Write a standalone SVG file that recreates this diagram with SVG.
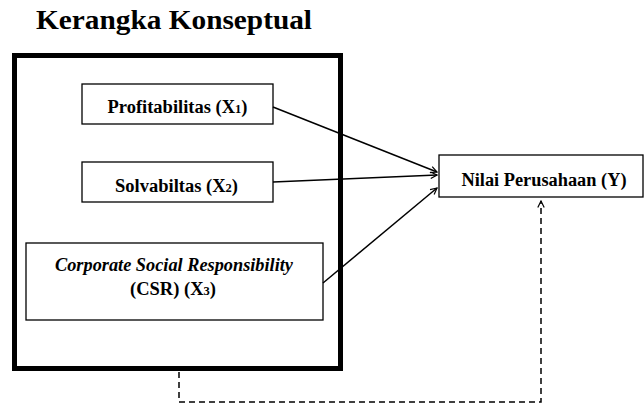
<svg xmlns="http://www.w3.org/2000/svg" width="644" height="405" viewBox="0 0 644 405">
<defs>
<style>
.box{fill:#fff;stroke:#000;stroke-width:1.3}
.t{font-family:"Liberation Serif","Times New Roman",serif;font-weight:bold;font-size:18.5px;fill:#000;text-anchor:middle}
.c{stroke:#000;stroke-width:1.5;fill:none}
.d{stroke:#000;stroke-width:1.5;fill:none;stroke-dasharray:6,4}
</style>
<marker id="ah" viewBox="0 0 10 10" refX="9" refY="5" markerWidth="8" markerHeight="8" markerUnits="userSpaceOnUse" orient="auto">
<path d="M1,1 L9,5 L1,9" fill="none" stroke="#000" stroke-width="1.5"/>
</marker>
</defs>
<rect width="644" height="405" fill="#fff"/>
<text x="174" y="29" style="font-family:'Liberation Serif','Times New Roman',serif;font-weight:bold;font-size:28px" text-anchor="middle" textLength="276" lengthAdjust="spacingAndGlyphs">Kerangka Konseptual</text>
<g id="outer">
<rect x="14.5" y="55.5" width="326" height="313" fill="none" stroke="#000" stroke-width="5"/>
</g>
<g id="profitabilitas">
<rect class="box" x="82" y="84" width="191" height="40"/>
<text class="t" x="177.5" y="113">Profitabilitas (X<tspan font-size="12.5">1</tspan>)</text>
</g>
<g id="solvabilitas">
<rect class="box" x="82" y="162" width="191" height="40"/>
<text class="t" x="176.5" y="192">Solvabiltas (X<tspan font-size="12.5">2</tspan>)</text>
</g>
<g id="csr">
<rect class="box" x="26" y="243" width="297" height="77"/>
<text class="t" x="174" y="271" font-style="italic" textLength="238" lengthAdjust="spacingAndGlyphs">Corporate Social Responsibility</text>
<text class="t" x="173" y="295">(CSR) (X<tspan font-size="12.5">3</tspan>)</text>
</g>
<g id="nilai">
<rect class="box" x="439" y="155" width="204" height="42"/>
<text class="t" x="544" y="185.5" textLength="165" lengthAdjust="spacingAndGlyphs">Nilai Perusahaan (Y)</text>
</g>
<g id="connectors">
<line class="c" x1="273" y1="107" x2="437" y2="172" marker-end="url(#ah)"/>
<line class="c" x1="273" y1="182" x2="437" y2="175" marker-end="url(#ah)"/>
<line class="c" x1="323" y1="283" x2="437" y2="188" marker-end="url(#ah)"/>
<polyline class="d" points="179,372 179,402 541,402 541,201" marker-end="url(#ah)"/>
</g>
</svg>
